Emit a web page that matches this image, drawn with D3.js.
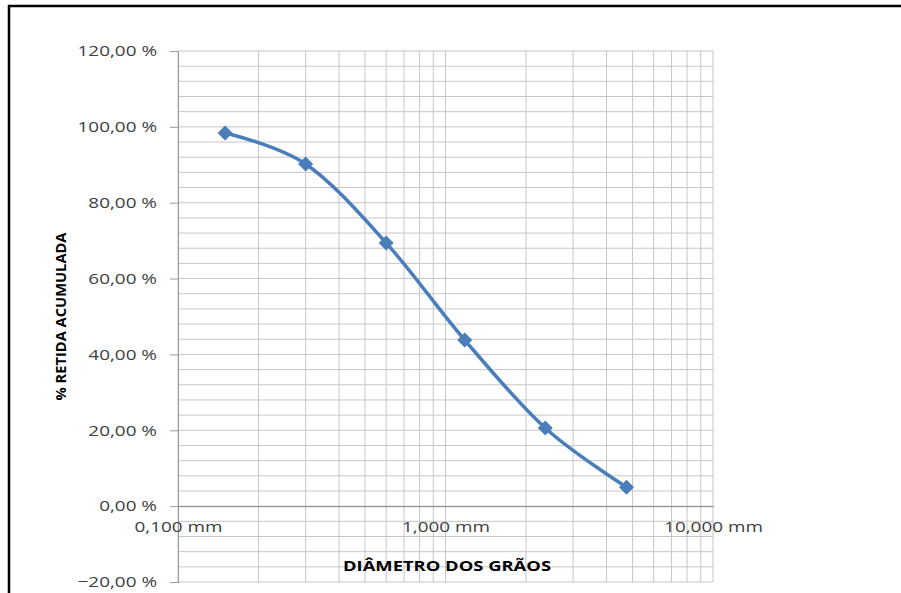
<!DOCTYPE html>
<html>
<head>
<meta charset="utf-8">
<script src="https://cdn.jsdelivr.net/npm/d3@7"></script>
<style>
  body { margin: 0; background: #fff; }
  svg { display: block; }
</style>
</head>
<body>
<svg id="svg" width="901" height="593"></svg>
<script>
// sieve openings (mm) and cumulative retained (%)
const diameters = [0.15, 0.3, 0.6, 1.18, 2.36, 4.75];
const retained = [98.4, 90.2, 69.4, 43.8, 20.6, 5.0];
const yTicks = [-20, 0, 20, 40, 60, 80, 100, 120];
const xTicks = [0.1, 1, 10];

const font = "'Open Sans', sans-serif";
const svg = d3.select("#svg")
    .attr("font-family", font);

// outer chart frame
svg.append("rect")
    .attr("x", 9).attr("y", 6)
    .attr("width", 1000).attr("height", 700)
    .attr("fill", "none")
    .attr("stroke", "#000")
    .attr("stroke-width", 2.5);

const x = d3.scaleLog().domain([0.1, 10]).range([178, 713]);
const y = d3.scaleLinear().domain([-20, 120]).range([582, 51]);

// horizontal gridlines every 4 %
const hGrid = d3.range(-20, 120.1, 4);
svg.append("g").selectAll("line")
    .data(hGrid)
    .enter().append("line")
    .attr("x1", x(0.1)).attr("x2", x(10))
    .attr("y1", d => y(d)).attr("y2", d => y(d))
    .attr("stroke", "#c6c6c6")
    .attr("stroke-width", 1);

// vertical gridlines at 1..9 of every decade
const vGrid = [];
[0.1, 1].forEach(dec => {
    for (let k = 1; k <= 9; k++) vGrid.push(dec * k);
});
vGrid.push(10);
svg.append("g").selectAll("line")
    .data(vGrid)
    .enter().append("line")
    .attr("x1", d => x(d)).attr("x2", d => x(d))
    .attr("y1", y(120)).attr("y2", y(-20))
    .attr("stroke", "#c6c6c6")
    .attr("stroke-width", 1);

// labels in the picture are a bit wider than Open Sans
function stretch(sel) {
    sel.each(function() {
        const w = this.getComputedTextLength();
        d3.select(this)
            .attr("textLength", w * 1.26)
            .attr("lengthAdjust", "spacingAndGlyphs");
    });
}

// y axis
const yAxis = svg.append("g")
    .attr("transform", `translate(${x(0.1)},0)`)
    .call(d3.axisLeft(y).tickValues(yTicks).tickSize(8).tickPadding(13)
        .tickFormat(d => d3.format(".2f")(d).replace(".", ",") + " %"));
yAxis.attr("font-family", font).attr("font-size", 15);
yAxis.select(".domain").attr("stroke", "#9a9a9a");
yAxis.selectAll(".tick line").attr("stroke", "#9a9a9a");
yAxis.selectAll("text").attr("fill", "#404040").call(stretch);

// x axis at 0 %
const xAxis = svg.append("g")
    .attr("transform", `translate(0,${y(0)})`)
    .call(d3.axisBottom(x).tickValues(xTicks).tickSize(0).tickPadding(15)
        .tickFormat(d => d3.format(".3f")(d).replace(".", ",") + " mm"));
xAxis.attr("font-family", font).attr("font-size", 15);
xAxis.select(".domain").attr("stroke", "#8a8a8a");
xAxis.selectAll("text").attr("fill", "#404040").call(stretch);

// axis titles
svg.append("text")
    .attr("transform", `translate(66,${y(50)}) rotate(-90)`)
    .attr("text-anchor", "middle")
    .attr("font-size", 14)
    .attr("font-weight", "bold")
    .attr("fill", "#000")
    .attr("textLength", 168)
    .attr("lengthAdjust", "spacingAndGlyphs")
    .text("% RETIDA ACUMULADA");

svg.append("text")
    .attr("x", 447).attr("y", 571)
    .attr("text-anchor", "middle")
    .attr("font-size", 15)
    .attr("font-weight", "bold")
    .attr("fill", "#000")
    .attr("textLength", 208)
    .attr("lengthAdjust", "spacingAndGlyphs")
    .text("DIÂMETRO DOS GRÃOS");

const data = diameters.map((d, i) => ({ d: d, v: retained[i] }));

const line = d3.line()
    .x(p => x(p.d))
    .y(p => y(p.v))
    .curve(d3.curveCatmullRom.alpha(0));

svg.append("path")
    .datum(data)
    .attr("d", line)
    .attr("fill", "none")
    .attr("stroke", "#4a7ebb")
    .attr("stroke-width", 3.5);

svg.append("g").selectAll("path")
    .data(data)
    .enter().append("path")
    .attr("d", d3.symbol().type(d3.symbolDiamond2).size(145))
    .attr("transform", p => `translate(${x(p.d)},${y(p.v)})`)
    .attr("fill", "#4a7ebb");
</script>
</body>
</html>
